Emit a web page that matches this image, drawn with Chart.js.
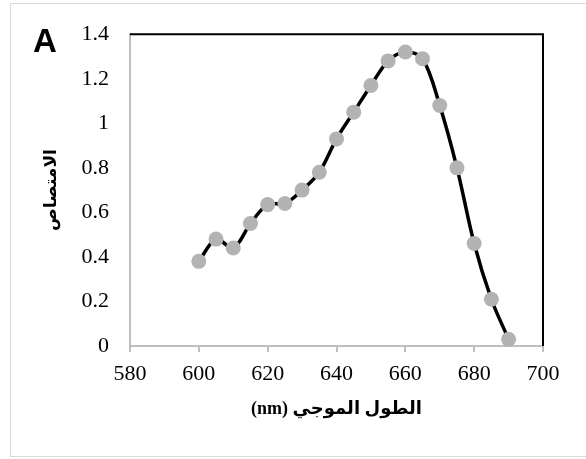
<!DOCTYPE html>
<html>
<head>
<meta charset="utf-8">
<script src="https://cdn.jsdelivr.net/npm/chart.js@4/dist/chart.umd.min.js"></script>
<style>
  html, body { margin: 0; padding: 0; background: #fff; }
  #wrap { position: relative; width: 586px; height: 459px; overflow: hidden; }
  #frame { position: absolute; left: 10px; top: 3px; width: 600px; height: 454px; border: 1.5px solid #d9d9d9; box-sizing: border-box; }
  #lbl { position: absolute; left: 33px; top: 22px; font: bold 33px "Liberation Sans", Arial, sans-serif; color: #000; }
  canvas { position: absolute; left: 0; top: 0; }
</style>
</head>
<body>
<div id="wrap">
  <div id="frame"></div>
  <canvas id="c" width="586" height="459"></canvas>
  <div id="lbl">A</div>
</div>
<script>
const wavelengths = [600, 605, 610, 615, 620, 625, 630, 635, 640, 645, 650, 655, 660, 665, 670, 675, 680, 685, 690];
const absorbance  = [0.38, 0.48, 0.44, 0.55, 0.635, 0.64, 0.70, 0.78, 0.93, 1.05, 1.17, 1.28, 1.32, 1.29, 1.08, 0.80, 0.46, 0.21, 0.03];
const xTitle = 'الطول الموجي (nm)';
const yTitle = 'الامتصاص';
const xRange = [580, 700, 20];
const yRange = [0, 1.4, 0.2];

const points = wavelengths.map((w, i) => ({ x: w, y: absorbance[i] }));

const frameLines = {
  id: 'frameLines',
  afterDatasetsDraw(chart) {
    const { ctx, chartArea: a } = chart;
    ctx.save();
    ctx.strokeStyle = '#000';
    ctx.lineWidth = 2;
    ctx.beginPath();
    ctx.moveTo(a.left, a.top);
    ctx.lineTo(a.right, a.top);
    ctx.lineTo(a.right, a.bottom);
    ctx.stroke();
    ctx.restore();
  }
};

new Chart(document.getElementById('c'), {
  type: 'line',
  data: {
    datasets: [{
      data: points,
      borderColor: '#000',
      borderWidth: 3.5,
      tension: 0.34,
      pointRadius: 7.5,
      pointBackgroundColor: '#b3b3b3',
      pointBorderColor: '#b3b3b3',
      pointBorderWidth: 0,
      clip: false
    }]
  },
  options: {
    responsive: false,
    animation: false,
    devicePixelRatio: 1,
    layout: { padding: { top: 33, right: 43, left: 0, bottom: 0 } },
    plugins: { legend: { display: false }, tooltip: { enabled: false } },
    scales: {
      x: {
        type: 'linear',
        min: xRange[0], max: xRange[1],
        afterFit(s) { s.height = 113; },
        ticks: {
          stepSize: xRange[2],
          color: '#000',
          padding: 9,
          font: { family: '"Liberation Serif", "Times New Roman", serif', size: 22 }
        },
        grid: { drawOnChartArea: false, drawTicks: true, tickLength: 6, color: '#bfbfbf', lineWidth: 2 },
        border: { color: '#bfbfbf', width: 2 },
        title: {
          display: true,
          text: '\u202B' + xTitle + '\u202C',
          color: '#000',
          padding: { top: 0, bottom: 39 },
          font: { family: '"Liberation Serif", "DejaVu Sans", serif', size: 18, weight: 'bold' }
        }
      },
      y: {
        min: yRange[0], max: yRange[1],
        afterFit(s) { s.width = 130; },
        ticks: {
          stepSize: yRange[2],
          color: '#000',
          padding: 21,
          callback: v => String(Math.round(v * 10) / 10),
          font: { family: '"Liberation Serif", "Times New Roman", serif', size: 22 }
        },
        grid: { drawOnChartArea: false, drawTicks: false, color: '#bfbfbf' },
        border: { color: '#bfbfbf', width: 2 },
        title: {
          display: true,
          text: yTitle,
          color: '#000',
          padding: { top: 41, bottom: 0 },
          font: { family: '"DejaVu Sans", sans-serif', size: 17, weight: 'bold' }
        }
      }
    }
  },
  plugins: [frameLines]
});
</script>
</body>
</html>
